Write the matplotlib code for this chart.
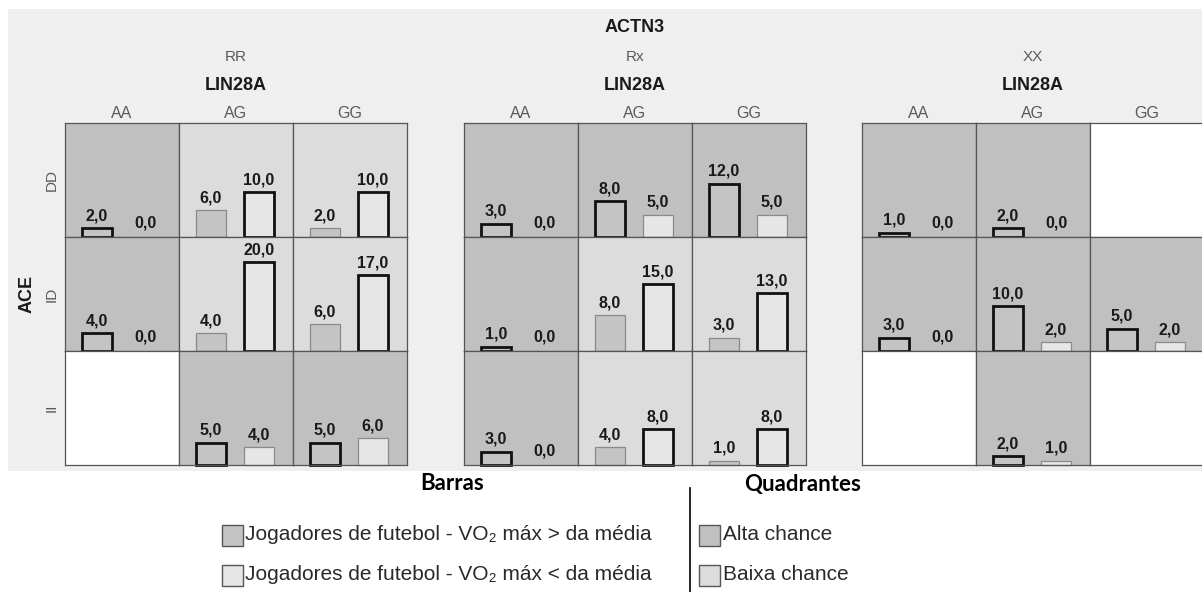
import matplotlib.pyplot as plt
from matplotlib.patches import Rectangle

plt.rcParams['font.family'] = ['Liberation Sans', 'DejaVu Sans']

# ----------------------------------------
# Data
# ----------------------------------------
actn3 = ['RR', 'Rx', 'XX']
lin28a = ['AA', 'AG', 'GG']
ace = ['DD', 'ID', 'II']

# quadrant class per ACTN3 panel, rows = ACE, cols = LIN28A
# 'A' = alta chance, 'B' = baixa chance, None = sem casos
quad_rr = [['A', 'B', 'B'], ['A', 'B', 'B'], [None, 'A', 'A']]
quad_rx = [['A', 'A', 'A'], ['A', 'B', 'B'], ['A', 'B', 'B']]
quad_xx = [['A', 'A', None], ['A', 'A', 'A'], [None, 'A', None]]

# players with VO2 max above / below the mean
above_rr = [[2, 6, 2], [4, 4, 6], [None, 5, 5]]
below_rr = [[0, 10, 10], [0, 20, 17], [None, 4, 6]]
above_rx = [[3, 8, 12], [1, 8, 3], [3, 4, 1]]
below_rx = [[0, 5, 5], [0, 15, 13], [0, 8, 8]]
above_xx = [[1, 2, None], [3, 10, 5], [None, 2, None]]
below_xx = [[0, 0, None], [0, 2, 2], [None, 1, None]]

quads = [quad_rr, quad_rx, quad_xx]
aboves = [above_rr, above_rx, above_xx]
belows = [below_rr, below_rx, below_xx]

# ----------------------------------------
# Layout (pixels, top-left origin)
# ----------------------------------------
W, H = 1202, 592
panel_left = [65, 464, 862]
top = 123
cw, ch = 114, 114

col_alta = '#c0c0c0'
col_baixa = '#dcdcdc'
bar_hi = '#c4c4c4'
bar_lo = '#e6e6e6'
grey_txt = '#5a5a5a'


def fx(x):
    return x / W


def fy(y):
    return 1 - y / H


def box(x, y, w, h):
    return [x / W, 1 - (y + h) / H, w / W, h / H]


fig = plt.figure(figsize=(W / 100, H / 100), dpi=100)
fig.patches.append(Rectangle((fx(8), fy(471)), fx(W - 8), (471 - 9) / H,
                             transform=fig.transFigure, facecolor='#efefef',
                             edgecolor='none', zorder=-10))

for p in range(3):
    x0 = panel_left[p]
    for i in range(3):
        for j in range(3):
            ax = fig.add_axes(box(x0 + j * cw, top + i * ch, cw, ch))
            ax.set_xlim(-0.667, 1.708)
            ax.set_ylim(0, 25.6)
            ax.set_xticks([])
            ax.set_yticks([])
            for s in ax.spines.values():
                s.set_color('#555555')
                s.set_linewidth(0.9)
            q = quads[p][i][j]
            if q is None:
                ax.set_facecolor('white')
                continue
            ax.set_facecolor(col_alta if q == 'A' else col_baixa)
            vals = [aboves[p][i][j], belows[p][i][j]]
            bars = ax.bar([0, 1], vals, width=0.625, color=[bar_hi, bar_lo])
            thick = 0 if q == 'A' else 1
            for k, b in enumerate(bars):
                b.set_clip_on(False)
                if vals[k] == 0:
                    b.set_visible(False)
                elif k == thick:
                    b.set_edgecolor('#111111')
                    b.set_linewidth(2.0)
                else:
                    b.set_edgecolor('#8a8a8a')
                    b.set_linewidth(0.9)
                lab = f"{vals[k]:.1f}".replace('.', ',')
                off = 5 if vals[k] == 0 else 3.5
                ax.annotate(lab, (k, vals[k]), xytext=(0, off),
                            textcoords='offset points', ha='center',
                            va='bottom', fontsize=11.5, fontweight='bold',
                            color='#1a1a1a', annotation_clip=False)

    cx = x0 + 1.5 * cw
    fig.text(fx(cx), fy(57), actn3[p], ha='center', va='center',
             fontsize=11, color=grey_txt)
    fig.text(fx(cx), fy(86), 'LIN28A', ha='center', va='center',
             fontsize=13, fontweight='bold', color='#1a1a1a')
    for j in range(3):
        fig.text(fx(x0 + (j + 0.5) * cw), fy(113), lin28a[j], ha='center',
                 va='center', fontsize=11.5, color=grey_txt)

fig.text(fx(panel_left[1] + 1.5 * cw), fy(28), 'ACTN3', ha='center',
         va='center', fontsize=13, fontweight='bold', color='#1a1a1a')

for i in range(3):
    fig.text(fx(59), fy(top + (i + 0.5) * ch), ace[i], ha='right',
             va='center', rotation=90, fontsize=11, color=grey_txt)
fig.text(fx(27), fy(top + 1.5 * ch), 'ACE', ha='center', va='center',
         rotation=90, fontsize=13, fontweight='bold', color='#1a1a1a')

# ----------------------------------------
# Legend
# ----------------------------------------
fig.text(fx(452), fy(484), 'Barras', ha='center', va='center',
         fontsize=16, fontweight='bold', family=['Lato', 'DejaVu Sans'])
fig.text(fx(803), fy(485), 'Quadrantes', ha='center', va='center',
         fontsize=16, fontweight='bold', family=['Lato', 'DejaVu Sans'])
fig.lines.append(plt.Line2D([fx(690), fx(690)], [fy(488), fy(592)],
                            transform=fig.transFigure, color='black', lw=1.2))

legend_bars = [(bar_hi, 'Jogadores de futebol - VO\u2082 máx > da média'),
               (bar_lo, 'Jogadores de futebol - VO\u2082 máx < da média')]
legend_quads = [(col_alta, 'Alta chance'), (col_baixa, 'Baixa chance')]
rows_y = [535, 575]
for (c, t), y in zip(legend_bars, rows_y):
    fig.patches.append(Rectangle((fx(222), fy(y + 11)), 21 / W, 21 / H,
                                 transform=fig.transFigure, facecolor=c,
                                 edgecolor='#555555', lw=1))
    fig.text(fx(245), fy(y), t, ha='left', va='center', fontsize=15,
             color='#2a2a2a')
for (c, t), y in zip(legend_quads, rows_y):
    fig.patches.append(Rectangle((fx(699), fy(y + 11)), 21 / W, 21 / H,
                                 transform=fig.transFigure, facecolor=c,
                                 edgecolor='#555555', lw=1))
    fig.text(fx(723), fy(y), t, ha='left', va='center', fontsize=15,
             color='#2a2a2a')

fig.savefig('out.png', dpi=100, facecolor='white')
